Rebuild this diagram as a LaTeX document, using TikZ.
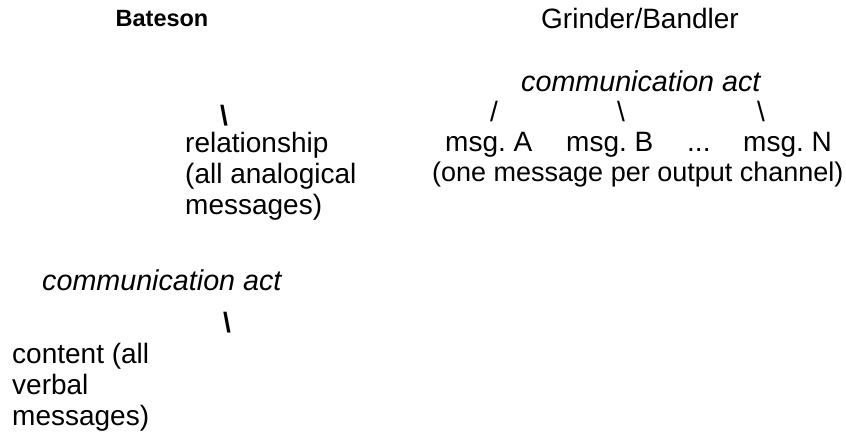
\documentclass[tikz,border=0pt]{standalone}
\usepackage{fontspec}
\setmainfont{Liberation Sans}
\usepackage{tikz}
\usetikzlibrary{positioning}
\frenchspacing

\begin{document}
\begin{tikzpicture}[
  x=1pt, y=-1pt,
  txt/.style={inner sep=0pt, anchor=base west, align=left, font=\fontsize{28}{31}\selectfont},
  head/.style={inner sep=0pt, anchor=base, font=\fontsize{28}{31}\selectfont},
  bhead/.style={inner sep=0pt, anchor=base, font=\fontsize{23.5}{28}\selectfont\bfseries},
  act/.style={txt, font=\fontsize{28.7}{31}\selectfont\itshape},
  tick/.style={txt},
  btick/.style={txt, font=\fontsize{28}{31}\selectfont\bfseries}
]
\useasboundingbox (0,0) rectangle (846,433);
% Bateson (left)
\node[bhead] (bateson) at (162,27) {Bateson};
\node[btick] (relslash) at (220,126) {\textbackslash};
\node[txt] (relation) at (185,214) {relationship\\(all analogical\\messages)};
\node[act] (leftact) at (42,290) {communication act};
\node[btick] (conslash) at (223,332) {\textbackslash};
\node[txt] (content) at (12,425) {content (all\\verbal\\messages)};
% Grinder/Bandler (right)
\node[head] (grinder) at (640,29) {Grinder/Bandler};
\node[act] (rightact) at (521,92) {communication act};
\node[tick] (slashA) at (490,122) {/};
\node[tick] (slashB) at (617,122) {\textbackslash};
\node[tick] (slashN) at (757,122) {\textbackslash};
\node[txt] (msgA) at (445,152) {msg. A};
\node[txt] (msgB) at (566,152) {msg. B};
\node[txt] (dots) at (687,152) {...};
\node[txt] (msgN) at (743,152) {msg. N};
\node[txt, font=\fontsize{27}{31}\selectfont] (channel) at (432,181) {(one message per output channel)};
\end{tikzpicture}
\end{document}
